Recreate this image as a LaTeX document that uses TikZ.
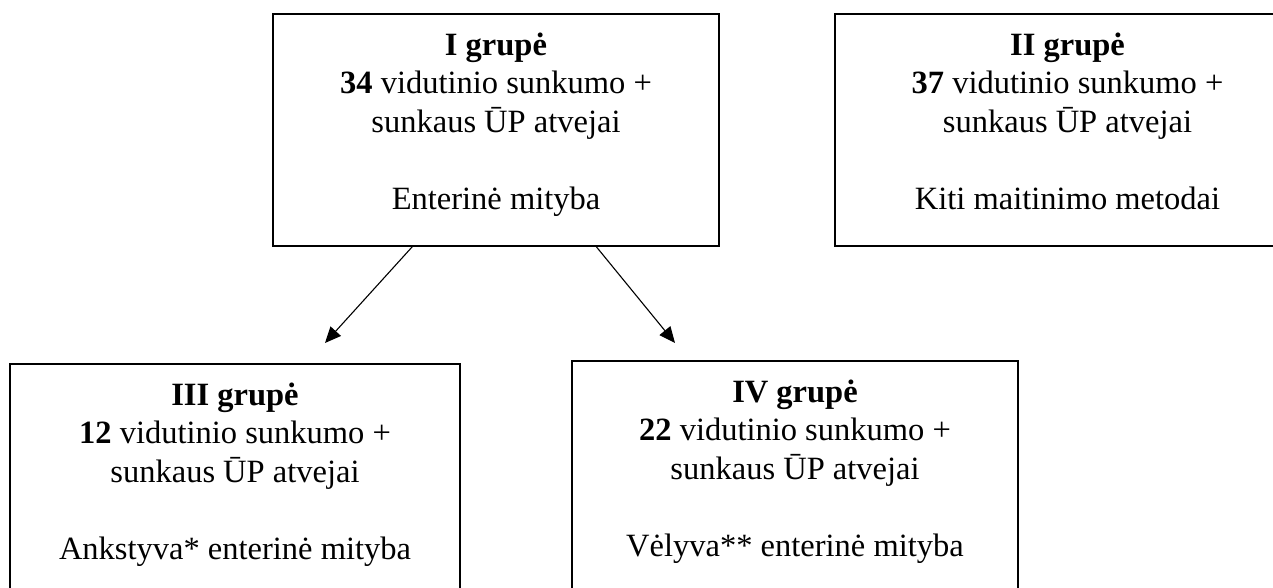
\documentclass[tikz,border=0pt]{standalone}
\usepackage{fontspec}
\setmainfont{Liberation Serif}
\usetikzlibrary{calc,arrows.meta}
\tikzset{
  grpbox/.style={draw=black, line width=1.4pt, rectangle, inner sep=0pt},
  grptext/.style={anchor=north, align=center, inner sep=0pt,
    font=\fontsize{32.5}{38.5}\selectfont},
  grparrow/.style={line width=1.1pt, -{Triangle[length=16pt,width=14pt]}}
}
\begin{document}
\begin{tikzpicture}[x=1pt,y=-1pt]
\useasboundingbox (0,0) rectangle (1273,588);
\begin{scope}
\clip (0,0) rectangle (1273,588);
\node[grpbox, minimum width=446pt, minimum height=232pt] (b1) at (496,130) {};
\node[grpbox, minimum width=465pt, minimum height=232pt] (b2) at (1067.5,130) {};
\node[grpbox, minimum width=450pt, minimum height=232pt] (b3) at (235,480) {};
\node[grpbox, minimum width=446pt, minimum height=232pt] (b4) at (795,477) {};
\end{scope}
\node[grptext] (t1) at ($(b1.north)+(0,19)$) {\textbf{I grupė}\\ \textbf{34} vidutinio sunkumo +\\ sunkaus ŪP atvejai\\[38.5pt] Enterinė mityba};
\node[grptext] (t2) at ($(b2.north)+(0,19)$) {\textbf{II grupė}\\ \textbf{37} vidutinio sunkumo +\\ sunkaus ŪP atvejai\\[38.5pt] Kiti maitinimo metodai};
\node[grptext] (t3) at ($(b3.north)+(0,19)$) {\textbf{III grupė}\\ \textbf{12} vidutinio sunkumo +\\ sunkaus ŪP atvejai\\[38.5pt] Ankstyva* enterinė mityba};
\node[grptext] (t4) at ($(b4.north)+(0,19)$) {\textbf{IV grupė}\\ \textbf{22} vidutinio sunkumo +\\ sunkaus ŪP atvejai\\[38.5pt] Vėlyva** enterinė mityba};
\coordinate (s3) at ($(b1.south west)+(140,0)$);
\coordinate (s4) at ($(b1.south west)+(324,0)$);
\coordinate (e3) at (325,343);
\coordinate (e4) at (675,343);
\draw[grparrow] (s3) -- (e3);
\draw[grparrow] (s4) -- (e4);
\end{tikzpicture}
\end{document}
